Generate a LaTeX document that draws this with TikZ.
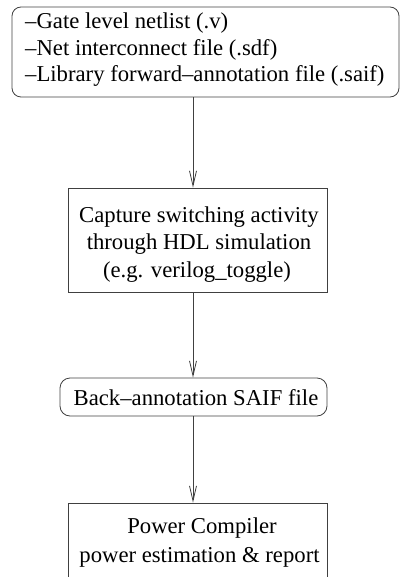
\documentclass[tikz,border=0pt]{standalone}
\usepackage{fontspec}
\setmainfont{Liberation Serif}
\usetikzlibrary{arrows.meta}

\begin{document}
\begin{tikzpicture}[x=1pt, y=-1pt,
  frame/.style={draw=black!75, line width=0.8pt, inner sep=0pt},
  txt/.style={inner sep=0pt, font=\fontsize{22.7}{27}\selectfont},
  flow/.style={draw=black!75, line width=0.8pt,
    -{Straight Barb[length=15pt,width=7pt,line width=0.8pt]}}]
\useasboundingbox (0,0) rectangle (401,577);
\clip (0,0) rectangle (401,577);

% input files
\node[frame, rounded corners=9pt, minimum width=387pt, minimum height=90pt] (inputs) at (205.5,52) {};
\node[txt, anchor=base west] (in1) at (25,29) {--Gate level netlist (.v)};
\node[txt, anchor=base west] (in2) at (25,55.5) {--Net interconnect file (.sdf)};
\node[txt, anchor=base west] (in3) at (25,82) {--Library forward--annotation file (.saif)};

% simulation step
\node[frame, minimum width=259pt, minimum height=104pt] (sim) at (198,240) {};
\node[txt, anchor=base] (sim1) at (199,222) {Capture switching activity};
\node[txt, anchor=base] (sim2) at (199,249.5) {through HDL simulation};
\node[txt, anchor=base] (sim3) at (197,277) {(e.g. verilog\_toggle)};

% back-annotation file
\node[frame, rounded corners=10pt, minimum width=267pt, minimum height=38pt] (saif) at (193.5,397) {};
\node[txt, anchor=base] (saif1) at (196,405) {Back--annotation SAIF file};

% power analysis (box runs past the lower edge)
\node[frame, minimum width=259pt, minimum height=100pt] (pc) at (198,553) {};
\node[txt, anchor=base] (pc1) at (202,533) {Power Compiler};
\node[txt, anchor=base] (pc2) at (199.5,562) {power estimation \& report};

\coordinate (ax) at (193,0);
\draw[flow] (inputs.south -| ax) -- (sim.north -| ax);
\draw[flow] (sim.south -| ax) -- (saif.north -| ax);
\draw[flow] (saif.south -| ax) -- (pc.north -| ax);
\end{tikzpicture}
\end{document}
